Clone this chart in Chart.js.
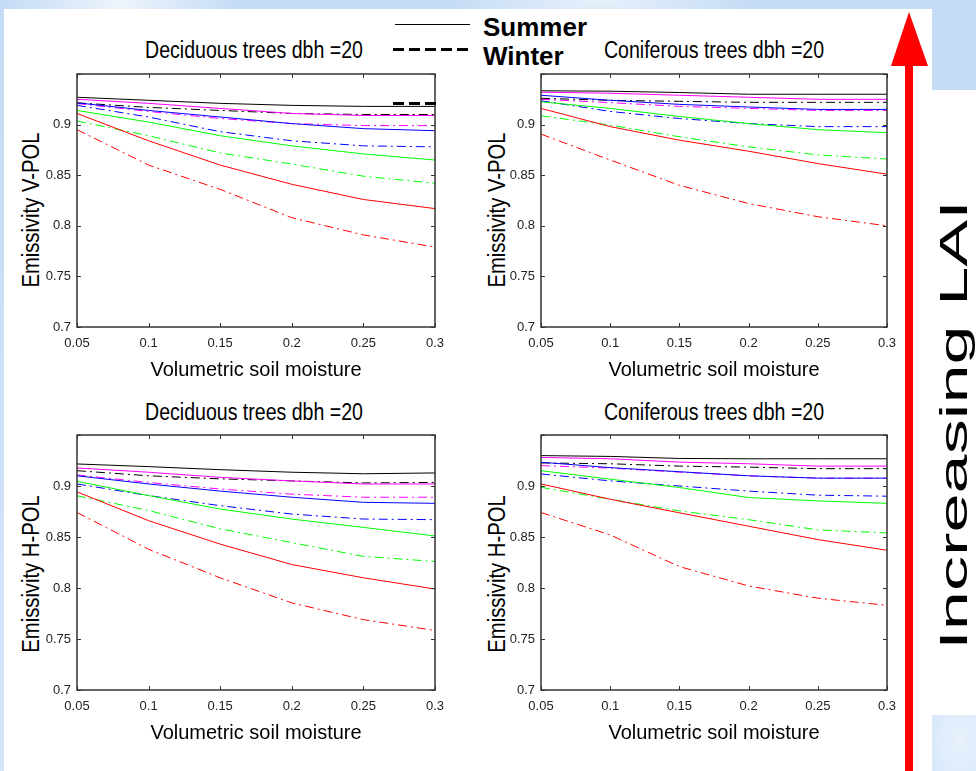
<!DOCTYPE html>
<html>
<head>
<meta charset="utf-8">
<script src="https://cdn.jsdelivr.net/npm/chart.js@4.4.1/dist/chart.umd.min.js"></script>
<style>
  body {
    margin: 0; width: 976px; height: 771px; overflow: hidden; position: relative;
    font-family: 'Liberation Sans', Arial, sans-serif;
    background:
      radial-gradient(ellipse 120px 40px at 120px 4px, rgba(255,255,255,.7), transparent),
      radial-gradient(ellipse 160px 30px at 600px 2px, rgba(255,255,255,.6), transparent),
      radial-gradient(ellipse 40px 60px at 960px 740px, rgba(255,255,255,.5), transparent),
      linear-gradient(180deg, #c4dbf5, #d4e6fa);
  }
  .sheet { position: absolute; background: #fff; }
  canvas { position: absolute; }
  .ttl { position: absolute; font-size: 23px; line-height: 26px; white-space: nowrap;
         transform: translateX(-50%) scaleX(0.85); color: #000; }
  .ytl { position: absolute; font-size: 23px; line-height: 26px; white-space: nowrap;
         transform: translate(-50%, -50%) rotate(-90deg) scaleX(0.88); color: #000; }
  .leg { position: absolute; font-size: 26px; font-weight: bold; color: #000; line-height: 30px; }
  .dash { position: absolute; height: 3px; background: repeating-linear-gradient(to right, #000 0 11px, transparent 11px 16px); }
  #lai { position: absolute; left: 954px; top: 425px; font-size: 38px; white-space: nowrap;
         transform: translate(-50%, -50%) rotate(-90deg) scaleX(1.85); }
</style>
</head>
<body>
<div class="sheet" style="left:4px;top:9px;width:928px;height:762px"></div>
<div class="sheet" style="left:932px;top:90px;width:44px;height:625px"></div>

<div style="position:absolute;left:395px;top:24px;width:75px;border-top:1.5px solid #000"></div>
<div class="dash" style="left:393px;top:48px;width:79px"></div>
<div class="leg" style="left:483px;top:12px">Summer</div>
<div class="leg" style="left:483px;top:41px">Winter</div>

<div class="ttl" style="left:254px;top:37px">Deciduous trees dbh =20</div>
<div class="ttl" style="left:714px;top:37px">Coniferous trees dbh =20</div>
<div class="ttl" style="left:254px;top:399px">Deciduous trees dbh =20</div>
<div class="ttl" style="left:714px;top:399px">Coniferous trees dbh =20</div>

<div class="ytl" style="left:31px;top:210px">Emissivity V-POL</div>
<div class="ytl" style="left:497px;top:210px">Emissivity V-POL</div>
<div class="ytl" style="left:31px;top:574px">Emissivity H-POL</div>
<div class="ytl" style="left:497px;top:574px">Emissivity H-POL</div>

<canvas id="decV" width="445" height="322" style="left:0px;top:60px"></canvas>
<canvas id="conV" width="433" height="322" style="left:464px;top:60px"></canvas>
<canvas id="decH" width="445" height="324" style="left:0px;top:421px"></canvas>
<canvas id="conH" width="433" height="324" style="left:464px;top:421px"></canvas>

<div class="dash" style="left:393px;top:102px;width:44px"></div>

<svg style="position:absolute;left:880px;top:0" width="60" height="771">
  <polygon points="29,12 11,66 48,66" fill="#ff0000"/>
  <rect x="25" y="60" width="8" height="711" fill="#ff0000"/>
</svg>
<div id="lai">Increasing LAI</div>

<script>
// volumetric soil moisture (x axis)
const moisture = [0.05, 0.1, 0.15, 0.2, 0.25, 0.3];

// LAI levels, highest first: black, magenta, blue, green, red
// Deciduous, V-POL
const decV_summer = [
    [0.927, 0.924, 0.921, 0.919, 0.918, 0.918],
    [0.925, 0.921, 0.916, 0.911, 0.909, 0.909],
    [0.9215, 0.914, 0.9075, 0.901, 0.896, 0.894],
    [0.914, 0.9025, 0.889, 0.879, 0.871, 0.865],
    [0.911, 0.884, 0.86, 0.841, 0.826, 0.817]
];
const decV_winter = [
    [0.9215, 0.917, 0.914, 0.911, 0.910, 0.910],
    [0.9208, 0.913, 0.906, 0.901, 0.899, 0.899],
    [0.919, 0.9075, 0.893, 0.884, 0.879, 0.878],
    [0.9035, 0.889, 0.872, 0.861, 0.849, 0.842],
    [0.895, 0.86, 0.836, 0.808, 0.791, 0.779]
];
// Coniferous, V-POL
const conV_summer = [
    [0.9334, 0.933, 0.9317, 0.930, 0.930, 0.930],
    [0.932, 0.931, 0.929, 0.927, 0.925, 0.925],
    [0.929, 0.924, 0.920, 0.9174, 0.915, 0.915],
    [0.9225, 0.916, 0.908, 0.901, 0.895, 0.892],
    [0.916, 0.898, 0.8846, 0.8737, 0.8615, 0.851]
];
const conV_winter = [
    [0.926, 0.924, 0.923, 0.922, 0.922, 0.922],
    [0.925, 0.9217, 0.918, 0.916, 0.914, 0.914],
    [0.9236, 0.913, 0.906, 0.901, 0.898, 0.898],
    [0.9087, 0.8995, 0.888, 0.878, 0.870, 0.866],
    [0.8906, 0.865, 0.84, 0.822, 0.809, 0.80]
];
// Deciduous, H-POL
const decH_summer = [
    [0.9216, 0.919, 0.916, 0.9135, 0.912, 0.9128],
    [0.9177, 0.9135, 0.9085, 0.905, 0.902, 0.902],
    [0.910, 0.902, 0.895, 0.889, 0.884, 0.883],
    [0.9046, 0.8906, 0.8774, 0.8676, 0.8594, 0.851],
    [0.8943, 0.866, 0.843, 0.823, 0.810, 0.799]
];
const decH_winter = [
    [0.915, 0.910, 0.907, 0.905, 0.903, 0.9035],
    [0.9108, 0.9035, 0.897, 0.892, 0.889, 0.889],
    [0.902, 0.8906, 0.8807, 0.8725, 0.8676, 0.867],
    [0.8904, 0.876, 0.858, 0.8445, 0.831, 0.826],
    [0.874, 0.838, 0.810, 0.7854, 0.769, 0.7584]
];
// Coniferous, H-POL
const conH_summer = [
    [0.9298, 0.929, 0.927, 0.9267, 0.9267, 0.9267],
    [0.928, 0.9267, 0.9234, 0.9218, 0.9195, 0.9195],
    [0.9233, 0.918, 0.914, 0.910, 0.9077, 0.9077],
    [0.915, 0.9067, 0.8985, 0.8887, 0.8854, 0.883],
    [0.902, 0.887, 0.8737, 0.8606, 0.8475, 0.837]
];
const conH_winter = [
    [0.9226, 0.9218, 0.9195, 0.9185, 0.917, 0.917],
    [0.920, 0.9175, 0.9136, 0.910, 0.9077, 0.9077],
    [0.9118, 0.905, 0.900, 0.895, 0.891, 0.890],
    [0.8987, 0.887, 0.8756, 0.867, 0.857, 0.854],
    [0.874, 0.852, 0.821, 0.802, 0.790, 0.783]
];

const laiColors = ['#000000', '#ff00ff', '#0000ff', '#00ff00', '#ff0000'];
const tickFont = {family: "'Liberation Sans', Arial, sans-serif", size: 13};
const titleFont = {family: "'Liberation Sans', Arial, sans-serif", size: 20};

// matlab style box with ticks pointing inwards
const boxPlugin = {
    id: 'matlabBox',
    afterDatasetsDraw(chart) {
        const {ctx, chartArea: a, scales: {x, y}} = chart;
        ctx.save();
        ctx.strokeStyle = '#333';
        ctx.lineWidth = 1.5;
        ctx.strokeRect(a.left, a.top, a.right - a.left, a.bottom - a.top);
        ctx.lineWidth = 1;
        ctx.beginPath();
        x.ticks.forEach(t => {
            const px = Math.round(x.getPixelForValue(t.value)) + 0.5;
            ctx.moveTo(px, a.bottom); ctx.lineTo(px, a.bottom - 4);
            ctx.moveTo(px, a.top); ctx.lineTo(px, a.top + 4);
        });
        y.ticks.forEach(t => {
            const py = Math.round(y.getPixelForValue(t.value)) + 0.5;
            ctx.moveTo(a.left, py); ctx.lineTo(a.left + 4, py);
            ctx.moveTo(a.right, py); ctx.lineTo(a.right - 4, py);
        });
        ctx.stroke();
        ctx.restore();
    }
};

function makeDatasets(summer, winter) {
    let ds = [];
    summer.forEach((vals, i) => ds.push({
        data: vals.map((v, k) => ({x: moisture[k], y: v})),
        borderColor: laiColors[i], borderWidth: 1, pointRadius: 0
    }));
    winter.forEach((vals, i) => ds.push({
        data: vals.map((v, k) => ({x: moisture[k], y: v})),
        borderColor: laiColors[i], borderWidth: 1, pointRadius: 0,
        borderDash: [9, 4, 2, 4]
    }));
    return ds;
}

function makeChart(id, summer, winter) {
    new Chart(document.getElementById(id), {
        type: 'line',
        data: {datasets: makeDatasets(summer, winter)},
        plugins: [boxPlugin],
        options: {
            responsive: false,
            animation: false,
            devicePixelRatio: 1,
            layout: {padding: {left: 19, top: 14, right: 10, bottom: 0}},
            plugins: {legend: {display: false}, tooltip: {enabled: false}},
            scales: {
                x: {
                    type: 'linear', min: 0.05, max: 0.3,
                    grid: {display: false, drawTicks: false},
                    border: {display: false},
                    ticks: {stepSize: 0.05, padding: 9, color: '#222', font: tickFont,
                            maxRotation: 0, callback: v => String(+v.toFixed(2))},
                    title: {display: true, text: 'Volumetric soil moisture', color: '#000',
                            font: titleFont, padding: {top: 0, bottom: 0}},
                    afterFit: s => { s.height = 55; s.paddingLeft = 0; s.paddingRight = 0; }
                },
                y: {
                    min: 0.7, max: 0.95,
                    grid: {display: false, drawTicks: false},
                    border: {display: false},
                    ticks: {stepSize: 0.05, padding: 6, color: '#222', font: tickFont,
                            callback: v => v > 0.93 ? '' : String(+v.toFixed(2))},
                    afterFit: s => { s.width = 58; s.paddingTop = 0; s.paddingBottom = 0; }
                }
            }
        }
    });
}

makeChart('decV', decV_summer, decV_winter);
makeChart('conV', conV_summer, conV_winter);
makeChart('decH', decH_summer, decH_winter);
makeChart('conH', conH_summer, conH_winter);
</script>
</body>
</html>
